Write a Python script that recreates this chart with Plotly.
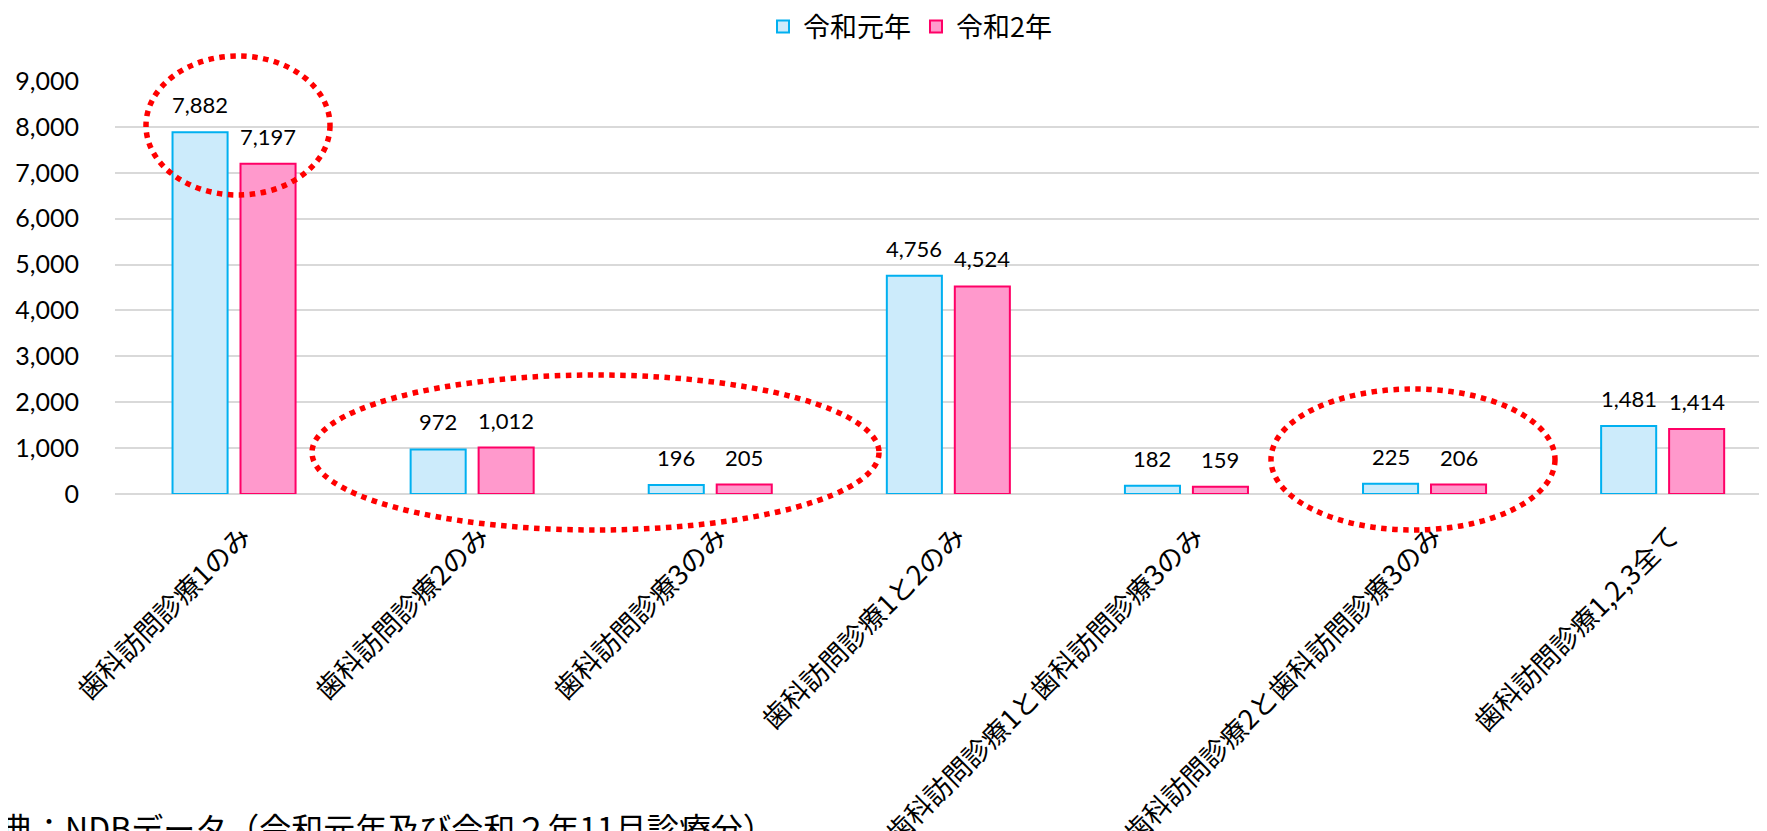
import plotly.graph_objects as go

# ---- data ----
categories = [
    "歯科訪問診療1のみ",
    "歯科訪問診療2のみ",
    "歯科訪問診療3のみ",
    "歯科訪問診療1と2のみ",
    "歯科訪問診療1と歯科訪問診療3のみ",
    "歯科訪問診療2と歯科訪問診療3のみ",
    "歯科訪問診療1,2,3全て",
]
series_names = ["令和元年", "令和2年"]
values_r1 = [7882, 972, 196, 4756, 182, 225, 1481]
values_r2 = [7197, 1012, 205, 4524, 159, 206, 1414]
y_tick_values = [0, 1000, 2000, 3000, 4000, 5000, 6000, 7000, 8000, 9000]
footnote = "出典：NDBデータ（令和元年及び令和２年11月診療分）"

# ---- layout geometry ----
# the page body has an 8px margin; targets below are page pixels
OFF = 8
PAGE_W, PAGE_H = 1767, 831
W, H = PAGE_W - OFF, PAGE_H - OFF
PLOT_LEFT, PLOT_TOP, PLOT_BOTTOM = 115, 81, 494      # page pixels
L = PLOT_LEFT - OFF
T = PLOT_TOP - OFF
B = H - (PLOT_BOTTOM - OFF)
R = 0
PW, PH = W - L - R, H - T - B
CAT_STEP = 238.1


def px_x(x):
    """page pixel x -> paper coordinate"""
    return (x - OFF - L) / PW


def px_y(y):
    """page pixel y -> paper coordinate"""
    return (H - B - (y - OFF)) / PH


CJK = "Noto Sans CJK JP"
NUM = "Lato"

colors_fill = ["#CCEBFB", "#FF99CC"]
colors_line = ["#00B0F0", "#FF0066"]

fig = go.Figure()
for name, vals, fc, lc in zip(series_names, [values_r1, values_r2], colors_fill, colors_line):
    fig.add_trace(go.Bar(
        x=categories, y=vals, name=name,
        marker=dict(color=fc, line=dict(color=lc, width=2)),
        hoverinfo="x+y",
    ))

# data labels
annotations = []
for vals, shift in [(values_r1, -34), (values_r2, 34)]:
    for c, v in zip(categories, vals):
        annotations.append(dict(
            x=c, y=v, xref="x", yref="y", text=f"{v:,}", showarrow=False,
            xshift=shift, yshift=12, yanchor="bottom", xanchor="center",
            font=dict(family=NUM, size=22, color="#000000"),
        ))

annotations.append(dict(
    x=px_x(-33), y=px_y(802), xref="paper", yref="paper", text=footnote,
    showarrow=False, xanchor="left", yanchor="top",
    font=dict(family=CJK, size=32, color="#000000"),
))

# red dotted ellipses (page pixel boxes)
ellipses = [
    (146, 56, 330, 195),
    (312, 375, 879, 530),
    (1271, 389, 1555, 530),
]
shapes = []
for x0, y0, x1, y1 in ellipses:
    shapes.append(dict(
        type="circle", xref="paper", yref="paper",
        x0=px_x(x0), x1=px_x(x1), y0=px_y(y1), y1=px_y(y0),
        line=dict(color="#FF0000", width=5.5, dash="dot"),
        fillcolor="rgba(0,0,0,0)", layer="above",
    ))

fig.update_layout(
    width=W, height=H,
    margin=dict(l=L, r=R, t=T, b=B, pad=0, autoexpand=False),
    paper_bgcolor="#FFFFFF", plot_bgcolor="#FFFFFF",
    barmode="group", bargap=0.429, bargroupgap=0.19,
    showlegend=True,
    legend=dict(
        orientation="h", x=px_x(910), y=px_y(27), xanchor="center", yanchor="middle",
        font=dict(family=CJK, size=27, color="#000000"),
        bgcolor="rgba(0,0,0,0)",
    ),
    annotations=annotations,
    shapes=shapes,
    xaxis=dict(
        type="category", range=[-0.5, -0.5 + PW / CAT_STEP],
        tickangle=-45, tickfont=dict(family=CJK, size=27, color="#000000"),
        showgrid=False, showline=False, ticks="", zeroline=False,
        automargin=False, ticklabelstandoff=20, ticklabelshift=9,
    ),
    yaxis=dict(
        range=[0, 9000], tickvals=y_tick_values, tickformat=",d",
        tickfont=dict(family=NUM, size=25, color="#000000"),
        showgrid=True, gridcolor="#D9D9D9", gridwidth=2,
        zeroline=True, zerolinecolor="#D9D9D9", zerolinewidth=2,
        showline=False, ticks="", ticklabelstandoff=35, automargin=False,
    ),
)

fig.write_html("out.html")
